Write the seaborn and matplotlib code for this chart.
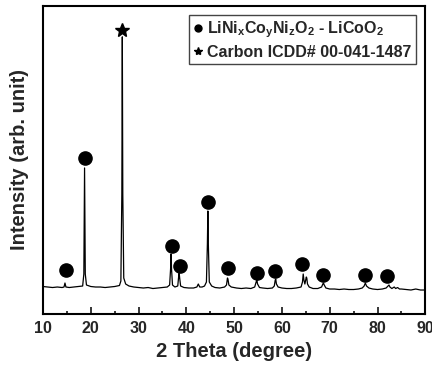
import pandas as pd
import seaborn as sns
import matplotlib.pyplot as plt
from matplotlib.ticker import MultipleLocator, NullLocator
from matplotlib.lines import Line2D

# XRD pattern (2 theta in degrees, intensity in arb. units)
two_theta = [10.0, 11.0, 12.0, 13.0, 14.0, 14.4, 14.6, 14.8, 15.5, 16.5, 17.5,
             18.3, 18.55, 18.7, 18.85, 19.1, 20.0, 21.0, 22.0, 23.0, 24.0, 25.0,
             26.0, 26.3, 26.5, 26.6, 26.7, 26.9, 27.3, 28.0, 29.0, 30.0, 31.0,
             32.0, 33.0, 34.0, 35.0, 36.0, 36.5, 36.7, 36.8, 36.9, 37.1, 37.6,
             38.2, 38.4, 38.5, 38.6, 38.8, 39.5, 40.5, 41.5, 42.2, 42.5, 42.8,
             43.3, 43.8, 44.2, 44.4, 44.5, 44.6, 44.8, 45.3, 46.0, 47.0, 48.0,
             48.4, 48.6, 48.7, 48.9, 49.4, 50.5, 51.5, 52.5, 53.5, 54.3, 54.6,
             54.75, 54.9, 55.3, 56.0, 57.0, 58.0, 58.4, 58.6, 58.7, 58.85, 59.2,
             60.0, 61.0, 62.0, 63.0, 64.0, 64.3, 64.45, 64.6, 64.8, 65.1, 65.2,
             65.35, 65.7, 66.5, 67.5, 68.3, 68.55, 68.7, 68.85, 69.2, 70.0, 71.0,
             72.0, 73.0, 74.0, 75.0, 76.0, 76.8, 77.2, 77.45, 77.7, 78.2, 79.0,
             80.0, 81.0, 81.8, 82.2, 82.4, 82.6, 83.0, 83.5, 83.8, 84.2, 84.6,
             85.0, 86.0, 87.0, 88.0, 89.0, 90.0]
intensity = [27.5, 27.0, 26.5, 27.0, 26.5, 27.0, 31.0, 27.0, 26.5, 27.0, 27.5,
             28.0, 40.0, 146.0, 40.0, 29.0, 27.5, 27.0, 27.0, 26.5, 27.0, 27.5,
             28.5, 33.0, 120.0, 277.0, 120.0, 36.0, 30.0, 28.0, 27.0, 26.5, 26.0,
             26.5, 25.5, 26.0, 26.5, 27.0, 29.0, 45.0, 60.0, 45.0, 29.0, 27.0,
             28.0, 38.0, 41.0, 36.0, 28.0, 26.5, 26.0, 26.0, 27.0, 30.0, 27.0,
             27.0, 28.0, 32.0, 70.0, 103.0, 70.0, 32.0, 28.0, 26.5, 26.0, 27.0,
             29.0, 36.0, 35.0, 29.0, 27.0, 26.0, 25.5, 26.0, 25.5, 27.0, 32.0,
             34.0, 30.0, 26.5, 26.0, 25.5, 26.0, 28.0, 34.0, 35.0, 30.0, 27.0,
             26.0, 25.5, 25.5, 26.0, 27.0, 32.0, 40.0, 34.0, 30.0, 37.0, 36.0,
             30.0, 27.0, 25.5, 25.5, 27.0, 30.0, 31.0, 29.0, 26.0, 25.0, 25.0,
             24.5, 25.0, 24.5, 24.5, 25.0, 26.0, 28.0, 31.0, 28.0, 26.0, 25.0,
             24.5, 25.0, 26.0, 28.0, 29.0, 27.0, 25.5, 27.0, 25.5, 26.5, 25.0,
             25.0, 24.5, 24.0, 25.0, 24.0, 24.0]

# peak markers
phase_x = [14.8, 18.7, 36.9, 38.6, 44.5, 48.7, 54.7, 58.6, 64.3, 68.5, 77.3, 82.0]
phase_y = [44, 156, 68, 48, 112, 46, 41, 43, 50, 39, 39, 38]
carbon_x = [26.6]
carbon_y = [284]

df = pd.DataFrame({"two_theta": two_theta, "intensity": intensity})

sns.set_style("ticks")
plt.rcParams["font.family"] = ["Liberation Sans", "DejaVu Sans"]
plt.rcParams["font.weight"] = "bold"
plt.rcParams["mathtext.fontset"] = "custom"
plt.rcParams["mathtext.rm"] = "Liberation Sans:bold"
plt.rcParams["mathtext.it"] = "Liberation Sans:bold"
plt.rcParams["mathtext.bf"] = "Liberation Sans:bold"

fig = plt.figure(figsize=(4.32, 3.66), dpi=100)
ax = fig.add_axes([0.0995, 0.142, 0.885, 0.842])

sns.lineplot(x="two_theta", y="intensity", data=df, ax=ax, color="black",
             linewidth=0.9, estimator=None, sort=False)
ax.plot(phase_x, phase_y, "o", color="black", markersize=9.5, linestyle="none")
ax.plot(carbon_x, carbon_y, "*", color="black", markersize=10, linestyle="none")

ax.set_xlim(10, 90)
ax.set_ylim(0, 308)
ax.xaxis.set_major_locator(MultipleLocator(10))
ax.xaxis.set_minor_locator(MultipleLocator(5))
ax.yaxis.set_major_locator(NullLocator())
ax.tick_params(axis="x", which="major", direction="in", length=5, width=1.3,
               labelsize=11.5, pad=5)
ax.tick_params(axis="x", which="minor", direction="in", length=2.5, width=1.3)
for sp in ax.spines.values():
    sp.set_linewidth(1.5)
    sp.set_color("black")

ax.set_xlabel("2 Theta (degree)", fontsize=14.5, fontweight="bold", labelpad=4)
ax.set_ylabel("Intensity (arb. unit)", fontsize=14.5, fontweight="bold", labelpad=10)

handles = [
    Line2D([], [], marker="o", color="black", linestyle="none", markersize=5),
    Line2D([], [], marker="*", color="black", linestyle="none", markersize=6),
]
labels = ["LiNi$_x$Co$_y$Ni$_z$O$_2$ - LiCoO$_2$", "Carbon ICDD# 00-041-1487"]
leg = ax.legend(handles, labels, loc="upper right", fancybox=False,
                edgecolor="#444444", framealpha=1,
                handlelength=0.6, handletextpad=0.3, borderpad=0.25,
                labelspacing=0.3, borderaxespad=0.6,
                prop={"weight": "bold", "size": 11.5})
leg.get_frame().set_linewidth(1.0)

plt.savefig("out.png", dpi=100)
